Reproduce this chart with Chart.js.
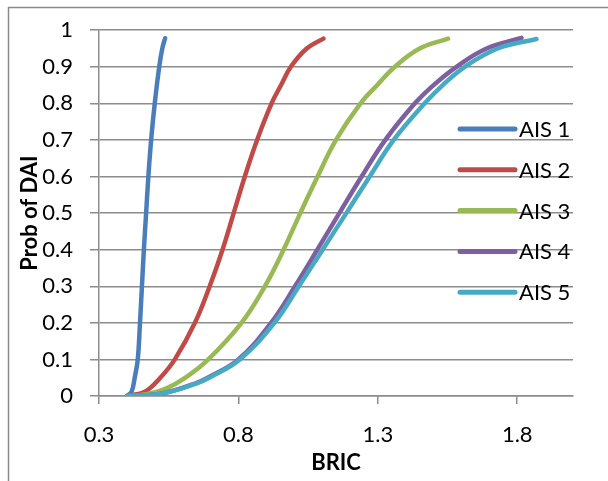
<!DOCTYPE html>
<html>
<head>
<meta charset="utf-8">
<script src="https://cdn.jsdelivr.net/npm/chart.js@4"></script>
<style>
  html, body { margin: 0; padding: 0; background: #ffffff; }
  #wrap { position: relative; width: 608px; height: 481px; }
</style>
</head>
<body>
<div id="wrap"><canvas id="c" width="608" height="481"></canvas></div>
<script>
// ---- data ----
const seriesLabels = ["AIS 1", "AIS 2", "AIS 3", "AIS 4", "AIS 5"];
const seriesColors = ["#4A7EBB", "#BE4B48", "#98B954", "#7D60A0", "#46AAC5"];

const ais1X = [0.400, 0.417, 0.428, 0.439, 0.447, 0.454, 0.461, 0.469, 0.477, 0.487, 0.500, 0.516, 0.527, 0.537];
const ais1Y = [0, 0.012, 0.05, 0.1, 0.2, 0.3, 0.4, 0.5, 0.6, 0.7, 0.8, 0.9, 0.95, 0.978];

const ais2X = [0.400, 0.465, 0.520, 0.572, 0.644, 0.697, 0.743, 0.783, 0.823, 0.867, 0.919, 0.953, 0.988, 1.045, 1.105];
const ais2Y = [0, 0.012, 0.05, 0.1, 0.2, 0.3, 0.4, 0.5, 0.6, 0.7, 0.8, 0.85, 0.9, 0.95, 0.977];

const ais3X = [0.400, 0.470, 0.540, 0.610, 0.692, 0.811, 0.895, 0.962, 1.022, 1.084, 1.150, 1.238, 1.298, 1.361, 1.450, 1.552];
const ais3Y = [0, 0.005, 0.02, 0.05, 0.1, 0.2, 0.3, 0.4, 0.5, 0.6, 0.7, 0.8, 0.85, 0.9, 0.95, 0.977];

const ais4X = [0.400, 0.525, 0.644, 0.690, 0.800, 0.917, 1.003, 1.083, 1.162, 1.242, 1.327, 1.433, 1.500, 1.582, 1.690, 1.815];
const ais4Y = [0, 0.007, 0.034, 0.05, 0.1, 0.2, 0.3, 0.4, 0.5, 0.6, 0.7, 0.8, 0.85, 0.9, 0.95, 0.979];

const ais5X = [0.400, 0.525, 0.648, 0.695, 0.805, 0.929, 1.017, 1.102, 1.187, 1.271, 1.357, 1.468, 1.533, 1.612, 1.730, 1.869];
const ais5Y = [0, 0.007, 0.034, 0.05, 0.1, 0.2, 0.3, 0.4, 0.5, 0.6, 0.7, 0.8, 0.85, 0.9, 0.95, 0.976];

const xTickValues = [0.3, 0.8, 1.3, 1.8];
const xTitle = "BRIC";
const yTitle = "Prob of DAI";

// ---- build chart ----
const seriesX = [ais1X, ais2X, ais3X, ais4X, ais5X];
const seriesY = [ais1Y, ais2Y, ais3Y, ais4Y, ais5Y];
const FONT = "Lato, 'Open Sans', sans-serif";
const GRID = "#8C8C8C";

const datasets = seriesLabels.map((lab, i) => ({
  label: lab,
  data: seriesX[i].map((x, j) => ({ x: x, y: seriesY[i][j] })),
  borderColor: seriesColors[i],
  backgroundColor: seriesColors[i],
  borderWidth: 4.5,
  borderCapStyle: 'round',
  borderJoinStyle: 'round',
  pointRadius: 0,
  fill: false,
  tension: 0.4,
  order: seriesLabels.length - i
}));

const framePlugin = {
  id: 'frame',
  beforeDraw(chart) {
    const ctx = chart.ctx;
    ctx.save();
    ctx.fillStyle = '#ffffff';
    ctx.fillRect(0, 0, chart.width, chart.height);
    ctx.strokeStyle = '#8A8A8A';
    ctx.lineWidth = 1.5;
    ctx.beginPath();
    ctx.moveTo(8.5, chart.height);
    ctx.lineTo(8.5, 7.5);
    ctx.lineTo(chart.width, 7.5);
    ctx.stroke();
    ctx.restore();
  }
};

const legendPlugin = {
  id: 'customLegend',
  afterDraw(chart) {
    const ctx = chart.ctx;
    ctx.save();
    const x0 = 460, x1 = 515, y0 = 129, dy = 40.8;
    chart.data.datasets.forEach((ds, i) => {
      const y = y0 + i * dy;
      ctx.strokeStyle = ds.borderColor;
      ctx.lineWidth = 5;
      ctx.lineCap = 'round';
      ctx.beginPath();
      ctx.moveTo(x0, y);
      ctx.lineTo(x1, y);
      ctx.stroke();
      ctx.fillStyle = '#000000';
      ctx.font = "22px " + FONT;
      ctx.textBaseline = 'middle';
      ctx.textAlign = 'left';
      ctx.fillText(ds.label, x1 + 4, y + 1);
    });
    ctx.restore();
  }
};

new Chart(document.getElementById('c'), {
  type: 'line',
  data: { datasets: datasets },
  plugins: [framePlugin, legendPlugin],
  options: {
    responsive: false,
    animation: false,
    devicePixelRatio: 1,
    layout: { padding: { left: 0, right: 35, top: 25, bottom: 0 } },
    plugins: { legend: { display: false }, tooltip: { enabled: false } },
    scales: {
      x: {
        type: 'linear',
        min: 0.3,
        max: 2.0,
        afterBuildTicks(scale) { scale.ticks = xTickValues.map(v => ({ value: v })); },
        afterFit(scale) { scale.height = 85; },
        ticks: {
          autoSkip: false,
          maxRotation: 0,
          padding: 18,
          color: '#000000',
          font: { family: FONT, size: 22 },
          callback: v => v.toFixed(1)
        },
        grid: {
          drawOnChartArea: false,
          drawTicks: true,
          tickLength: 8,
          color: GRID,
          lineWidth: 1.5
        },
        border: { display: true, color: GRID, width: 1.5 },
        title: {
          display: true,
          text: xTitle,
          color: '#000000',
          font: { family: FONT, size: 22, weight: 'bold' },
          padding: { top: 0, bottom: 5 }
        }
      },
      y: {
        type: 'linear',
        min: 0,
        max: 1,
        afterFit(scale) { scale.width = 99; },
        ticks: {
          stepSize: 0.1,
          padding: 17,
          color: '#000000',
          font: { family: FONT, size: 22 },
          callback: v => String(Number(v.toFixed(1)))
        },
        grid: {
          drawTicks: true,
          tickLength: 9,
          color: GRID,
          lineWidth: 1.5
        },
        border: { display: true, color: GRID, width: 1.5 },
        title: {
          display: true,
          text: yTitle,
          color: '#000000',
          font: { family: FONT, size: 22, weight: 'bold' },
          padding: { top: 17, bottom: 0 }
        }
      }
    }
  }
});
</script>
</body>
</html>
